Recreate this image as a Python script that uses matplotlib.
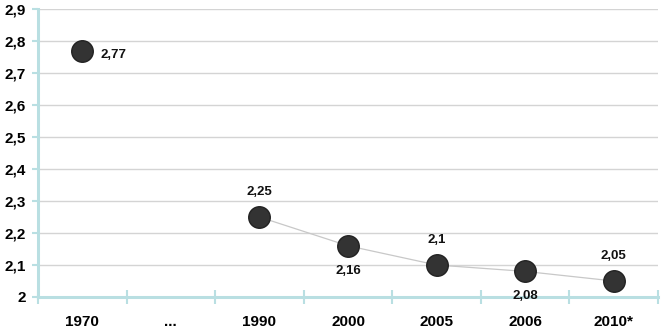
import numpy as np
import matplotlib
matplotlib.use("Agg")
import matplotlib.pyplot as plt

plt.rcParams['font.family'] = ['Liberation Sans', 'DejaVu Sans']

# data
years = ['1970', '...', '1990', '2000', '2005', '2006', '2010*']
values = [2.77, np.nan, 2.25, 2.16, 2.1, 2.08, 2.05]
value_labels = ['2,77', '', '2,25', '2,16', '2,1', '2,08', '2,05']
# label offset direction: 'r' right, 'u' above, 'd' below
label_pos = ['r', '', 'u', 'd', 'u', 'd', 'u']
y_ticks = [2.0, 2.1, 2.2, 2.3, 2.4, 2.5, 2.6, 2.7, 2.8, 2.9]
y_tick_labels = ['2', '2,1', '2,2', '2,3', '2,4', '2,5', '2,6', '2,7', '2,8', '2,9']

axis_col = '#b9dfe2'
grid_col = '#d4d4d4'
dot_col = '#333333'

fig = plt.figure(figsize=(6.62, 3.29), dpi=100)
ax = fig.add_axes([38 / 662, 32 / 329, 620 / 662, 288 / 329])

x = np.arange(len(years))

# connecting line from 1990 onwards
ax.plot(x[2:], values[2:], color='#c8c8c8', lw=0.9, zorder=2)
ax.plot(x, values, 'o', ms=15.5, color=dot_col, mec='#222222', zorder=3)

offsets = {'r': (31, -4), 'u': (0, 25), 'd': (0, -25)}
for xi, v, lab, p in zip(x, values, value_labels, label_pos):
    if not lab:
        continue
    ax.annotate(lab, (xi, v), xytext=offsets[p], textcoords='offset pixels',
                ha='center', va='center', fontsize=9.5, fontweight='bold',
                color='#111111')

ax.set_xlim(-0.5, len(years) - 0.5)
ax.set_ylim(2.0, 2.9)

ax.set_yticks(y_ticks)
ax.set_yticklabels(y_tick_labels, fontsize=11, fontweight='bold')
ax.yaxis.grid(True, color=grid_col, lw=1)
ax.set_axisbelow(True)

# boundaries as major ticks, labels at centres as minor ticks
ax.set_xticks(np.arange(-0.5, len(years), 1))
ax.set_xticklabels([])
ax.set_xticks(x, minor=True)
ax.set_xticklabels(years, minor=True, fontsize=11, fontweight='bold')
ax.tick_params(axis='x', which='major', direction='inout', length=10,
               width=1.5, color=axis_col)
ax.tick_params(axis='x', which='minor', length=0, pad=13)
ax.tick_params(axis='y', direction='out', length=4, width=1.5,
               color=axis_col, pad=5)

for s in ['top', 'right']:
    ax.spines[s].set_visible(False)
for s in ['left', 'bottom']:
    ax.spines[s].set_color(axis_col)
    ax.spines[s].set_linewidth(2.2)

fig.savefig('out.png', dpi=100)
